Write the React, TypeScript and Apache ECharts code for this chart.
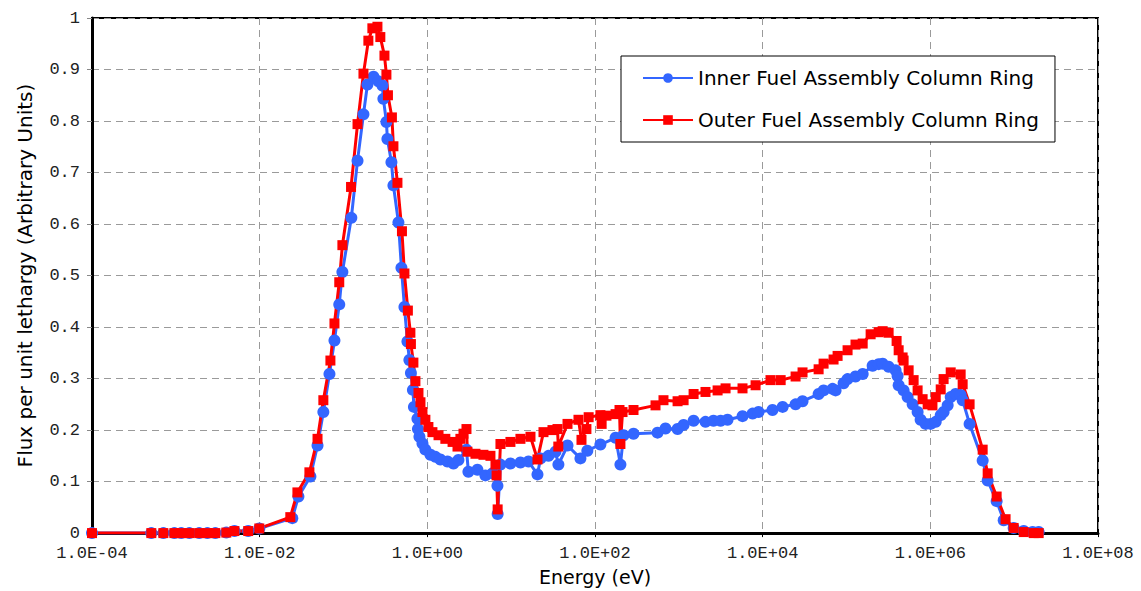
import React, { useEffect, useRef } from "react";
import * as echarts from "echarts";

const innerEnergy = [
  1e-4, 5.1e-4, 7.1e-4, 9.6e-4, 1.16e-3, 1.45e-3, 1.9e-3, 2.38e-3, 2.96e-3, 4.0e-3, 5.0e-3, 7.3e-3, 9.9e-3,
  0.0245, 0.029, 0.0403, 0.049, 0.0575, 0.068, 0.078, 0.089, 0.097, 0.124, 0.147, 0.173, 0.193, 0.228, 0.261,
  0.291, 0.299, 0.325, 0.334, 0.373, 0.394, 0.452, 0.491, 0.533, 0.579, 0.611, 0.637, 0.673, 0.692, 0.762,
  0.773, 0.805, 0.875, 0.948, 1.09, 1.25, 1.43, 1.74, 2.05, 2.35, 2.93, 3.09, 3.96, 4.93, 5.98, 6.86, 6.9,
  7.45, 9.8, 12.9, 16.1, 20.6, 22.4, 27.9, 33.8, 36.6, 47, 67, 81, 116, 176, 201, 219, 288, 557, 693, 966,
  1140, 1500, 2080, 2590, 3150, 3810, 5750, 7590, 8930, 13100, 17300, 24700, 29900, 46500, 53300, 68200,
  74100, 92300, 103000, 128000, 156000, 205000, 242000, 270000, 318000, 385000, 407000, 419000, 480000,
  536000, 615000, 705000, 766000, 879000, 1010000, 1160000, 1330000, 1440000, 1610000, 1750000, 2000000,
  2300000, 2430000, 2940000, 4210000, 4830000, 6180000, 7500000, 9860000, 13000000, 16600000, 19600000,
];
const innerFlux = [
  0, 0, 0, 0, 0, 0, 0, 0, 0, 0.001, 0.004, 0.004, 0.009,
  0.029, 0.071, 0.11, 0.17, 0.235, 0.309, 0.374, 0.444, 0.507, 0.612, 0.723, 0.813, 0.871, 0.886, 0.877,
  0.869, 0.843, 0.798, 0.765, 0.72, 0.675, 0.603, 0.515, 0.439, 0.372, 0.336, 0.311, 0.278, 0.245, 0.222,
  0.202, 0.187, 0.174, 0.162, 0.152, 0.148, 0.143, 0.139, 0.135, 0.142, 0.162, 0.119, 0.123, 0.112, 0.116, 0.092, 0.037,
  0.133, 0.135, 0.137, 0.139, 0.114, 0.145, 0.15, 0.158, 0.133, 0.17, 0.145, 0.16, 0.172, 0.185, 0.133, 0.19, 0.193, 0.195, 0.203, 0.202,
  0.21, 0.218, 0.216, 0.218, 0.218, 0.22, 0.227, 0.232, 0.235, 0.239, 0.245, 0.25, 0.256, 0.27, 0.277, 0.28,
  0.277, 0.291, 0.299, 0.304, 0.309, 0.325, 0.328, 0.329, 0.323, 0.316, 0.305, 0.287, 0.277,
  0.264, 0.25, 0.235, 0.22, 0.212, 0.212, 0.216, 0.229, 0.235, 0.248, 0.264, 0.27,
  0.268, 0.258, 0.212, 0.141, 0.102, 0.062, 0.025, 0.01, 0.004, 0.002, 0.002,
];

const outerEnergy = [
  1e-4, 5.1e-4, 7.1e-4, 9.6e-4, 1.16e-3, 1.45e-3, 1.9e-3, 2.38e-3, 2.96e-3, 4.0e-3, 5.0e-3, 7.3e-3, 9.9e-3,
  0.0232, 0.0282, 0.0392, 0.049, 0.0575, 0.0698, 0.078, 0.089, 0.097, 0.123, 0.147, 0.173, 0.198, 0.221, 0.254,
  0.275, 0.308, 0.325, 0.339, 0.378, 0.394, 0.44, 0.498, 0.533, 0.586, 0.628, 0.637, 0.682, 0.721, 0.784,
  0.828, 0.875, 0.948, 1.03, 1.15, 1.36, 1.64, 2.0, 2.29, 2.48, 2.7, 2.93, 3.01, 3.75, 4.67, 5.66, 6.5, 6.7, 6.9,
  7.45, 9.8, 12.9, 17, 20.6, 24.3, 31.1, 35.7, 36.5, 47, 63.5, 69, 79, 84, 116, 120, 137, 176, 196, 201, 213,
  288, 527, 656, 966, 1140, 1500, 2080, 2900, 3610, 5750, 8230, 12400, 16400, 24700, 29900, 46500, 53300,
  70100, 78300, 103000, 128000, 156000, 194000, 242000, 270000, 318000, 396000, 419000, 467000, 480000,
  551000, 632000, 705000, 809000, 929000, 1060000, 1160000, 1330000, 1440000, 1750000, 2300000, 2430000,
  2940000, 4210000, 4830000, 6180000, 7900000, 9860000, 13000000, 17100000, 19600000,
];
const outerFlux = [
  0, 0, 0, 0, 0, 0, 0, 0, 0, 0.001, 0.004, 0.004, 0.009,
  0.031, 0.079, 0.118, 0.183, 0.258, 0.335, 0.407, 0.487, 0.559, 0.672, 0.794, 0.892, 0.956, 0.98, 0.983,
  0.963, 0.927, 0.89, 0.85, 0.807, 0.751, 0.68, 0.586, 0.504, 0.432, 0.389, 0.367, 0.331, 0.295, 0.272,
  0.254, 0.235, 0.22, 0.206, 0.196, 0.19, 0.183, 0.177, 0.168, 0.183, 0.193, 0.202, 0.158, 0.154, 0.152, 0.15, 0.133, 0.112, 0.046,
  0.173, 0.177, 0.183, 0.187, 0.143, 0.196, 0.2, 0.202, 0.168, 0.212, 0.22, 0.181, 0.202, 0.225, 0.229, 0.212, 0.228, 0.231, 0.239, 0.173, 0.235,
  0.239, 0.248, 0.258, 0.256, 0.258, 0.27, 0.274, 0.277, 0.281, 0.281, 0.287, 0.297, 0.297, 0.304, 0.312, 0.318, 0.329,
  0.337, 0.344, 0.355, 0.366, 0.368, 0.386, 0.39, 0.392, 0.389, 0.373, 0.355, 0.341, 0.335,
  0.316, 0.297, 0.277, 0.26, 0.25, 0.248, 0.264, 0.279, 0.299, 0.312, 0.308, 0.289,
  0.25, 0.162, 0.116, 0.071, 0.027, 0.01, 0.002, 0, 0,
];

const seriesNames = ["Inner Fuel Assembly Column Ring", "Outer Fuel Assembly Column Ring"];
const xAxisTitle = "Energy (eV)";
const yAxisTitle = "Flux per unit lethargy (Arbitrary Units)";

function pairs(xs: number[], ys: number[]) {
  return xs.map((x, i) => [x, ys[i]]);
}

function fmtExp(v: number) {
  const e = Math.round(Math.log10(v));
  const a = Math.abs(e);
  return "1.0E" + (e < 0 ? "-" : "+") + (a < 10 ? "0" : "") + a;
}

export default function App() {
  const ref = useRef<HTMLDivElement>(null);
  useEffect(() => {
    if (!ref.current) return;
    const chart = echarts.init(ref.current, undefined, { renderer: "svg" });
    const mono = "'Liberation Mono', 'Courier New', monospace";
    const sans = "'DejaVu Sans', Arial, sans-serif";
    chart.setOption({
      animation: false,
      backgroundColor: "#fff",
      grid: {
        left: 92,
        right: 43,
        top: 18,
        bottom: 54,
        show: true,
        borderColor: "#000",
        borderWidth: 2,
        backgroundColor: "transparent",
      },
      legend: {
        orient: "vertical",
        left: 621,
        top: 56,
        backgroundColor: "#fff",
        borderColor: "#000",
        borderWidth: 1,
        padding: [12, 16, 12, 21],
        itemWidth: 50,
        itemHeight: 12,
        itemGap: 22,
        textStyle: { fontFamily: sans, fontSize: 20, color: "#000" },
        data: seriesNames,
      },
      xAxis: {
        type: "log",
        logBase: 10,
        min: 1e-4,
        max: 1e8,
        interval: 2,
        name: xAxisTitle,
        nameLocation: "middle",
        nameGap: 30,
        nameTextStyle: { fontFamily: sans, fontSize: 19, color: "#000" },
        axisLine: { show: true, lineStyle: { color: "#000", width: 3 } },
        axisTick: { show: true, length: 4, lineStyle: { color: "#000" } },
        minorTick: { show: false },
        axisLabel: {
          formatter: fmtExp,
          fontFamily: mono,
          fontSize: 17,
          color: "#222",
          margin: 12,
        },
        splitLine: { show: true, lineStyle: { color: "#9a9a9a", type: [7, 5], width: 1 } },
      },
      yAxis: {
        type: "value",
        min: 0,
        max: 1,
        interval: 0.1,
        name: yAxisTitle,
        nameLocation: "middle",
        nameRotate: 90,
        nameGap: 57,
        nameTextStyle: { fontFamily: sans, fontSize: 20, color: "#000" },
        axisLine: { show: true, lineStyle: { color: "#000", width: 3 } },
        axisTick: { show: true, length: 5, lineStyle: { color: "#888" } },
        axisLabel: {
          fontFamily: mono,
          fontSize: 17,
          color: "#222",
          margin: 12,
        },
        splitLine: { show: true, lineStyle: { color: "#9a9a9a", type: [7, 5], width: 1 } },
      },
      series: [
        {
          name: seriesNames[0],
          type: "line",
          data: pairs(innerEnergy, innerFlux),
          symbol: "circle",
          symbolSize: 12,
          showAllSymbol: true,
          lineStyle: { color: "#3366FF", width: 3 },
          itemStyle: { color: "#3366FF" },
        },
        {
          name: seriesNames[1],
          type: "line",
          data: pairs(outerEnergy, outerFlux),
          symbol: "rect",
          symbolSize: 10,
          showAllSymbol: true,
          lineStyle: { color: "#FF0000", width: 3 },
          itemStyle: { color: "#FF0000" },
        },
      ],
    });
    return () => chart.dispose();
  }, []);
  return (
    <div
      ref={ref}
      style={{ position: "absolute", left: 0, top: 0, width: 1141, height: 591 }}
    />
  );
}
